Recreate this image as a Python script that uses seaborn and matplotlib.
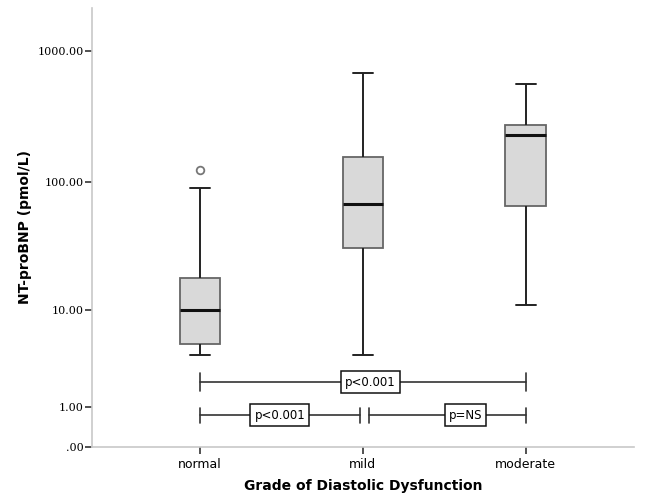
import numpy as np
import pandas as pd
import matplotlib.pyplot as plt
import seaborn as sns

# NT-proBNP by grade of diastolic dysfunction (pmol/L)
grades = ["normal", "mild", "moderate"]
# five-number summary: low whisker, Q1, median, Q3, high whisker
normal_vals = [4.0, 5.0, 10.0, 18.1, 91.0]
mild_vals = [4.0, 31.0, 68.0, 156.0, 680.0]
moderate_vals = [11.0, 66.0, 228.0, 275.0, 561.0]
outlier_grade = ["normal"]
outlier_vals = [124.5]

y_ticks = [0, 1, 10, 100, 1000]
y_ticklabels = [".00", "1.00", "10.00", "100.00", "1000.00"]

# comparisons between grades and their p labels
p_labels = ["p<0.001", "p<0.001", "p=NS"]


def fwd(v):
    # axis is log10(x + 1), same as SPSS's log scale with a zero
    return np.log10(np.asarray(v, dtype=float) + 1)


df = pd.DataFrame({
    "grade": ["normal"] * len(normal_vals) + ["mild"] * len(mild_vals)
             + ["moderate"] * len(moderate_vals),
    "value": normal_vals + mild_vals + moderate_vals,
})
df["tval"] = fwd(df["value"])
out_df = pd.DataFrame({"grade": outlier_grade, "tval": fwd(outlier_vals)})

sns.set_style("white")
plt.rcParams["font.family"] = ["DejaVu Sans"]
plt.rcParams["text.color"] = "black"
plt.rcParams["axes.labelcolor"] = "black"
plt.rcParams["xtick.color"] = "black"
plt.rcParams["ytick.color"] = "black"

fig = plt.figure(figsize=(6.45, 4.97), dpi=100)
ax = fig.add_axes([0.1426, 0.1006, 0.8404, 0.8834])

sns.boxplot(data=df, x="grade", y="tval", order=grades, ax=ax,
            color="#d9d9d9", saturation=1, width=0.25, whis=1.5,
            showfliers=False, linecolor="#222222", linewidth=1.4,
            boxprops=dict(edgecolor="#666666", linewidth=1.3),
            medianprops=dict(color="#111111", linewidth=2.2))

sns.stripplot(data=out_df, x="grade", y="tval", order=grades, ax=ax,
              jitter=False, color="white", edgecolor="#777777",
              linewidth=1.3, size=5.5, zorder=5)

# significance brackets
levels = [0.492, 0.242, 0.242]
spans = [(0, 2), (0, 0.982), (1.036, 2)]
text_x = [1.044, 0.49, 1.63]
cap_h = [0.068, 0.057, 0.057]
for (x0, x1), lev, tx, ch, lab in zip(spans, levels, text_x, cap_h, p_labels):
    ax.plot([x0, x1], [lev, lev], color="#333333", lw=1.2, zorder=3)
    for xc in (x0, x1):
        ax.plot([xc, xc], [lev - ch, lev + ch], color="#333333", lw=1.2, zorder=3)
    ax.text(tx, lev, lab, ha="center", va="center", fontsize=8.5, zorder=4,
            bbox=dict(boxstyle="square,pad=0.35", fc="white", ec="#111111", lw=1.1))

ax.set_xlim(-0.663, 2.664)
ax.set_ylim(0, 3.326)
ax.set_yticks(fwd(y_ticks))
ax.set_yticklabels(y_ticklabels, family="DejaVu Serif", fontsize=8)
ax.tick_params(axis="y", left=True, length=5, width=1.2, color="#333333", pad=1)
ax.tick_params(axis="x", bottom=True, length=5, width=1.2, color="#333333",
               labelsize=9, pad=3)

ax.set_xlabel("Grade of Diastolic Dysfunction", fontsize=10, fontweight="bold",
              labelpad=6)
ax.set_ylabel("NT-proBNP (pmol/L)", fontsize=10, fontweight="bold", labelpad=4)

sns.despine(ax=ax)
for side in ("left", "bottom"):
    ax.spines[side].set_color("#c8c8c8")
    ax.spines[side].set_linewidth(1.2)

fig.savefig("out.png", dpi=100)
